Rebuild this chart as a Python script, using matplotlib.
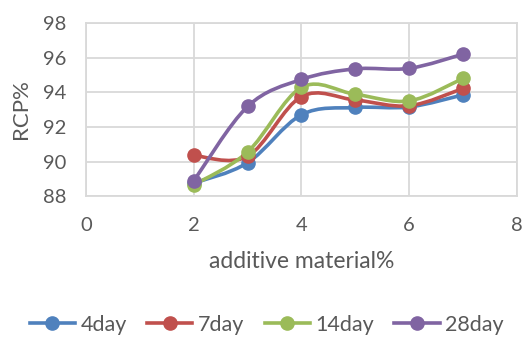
import numpy as np
import matplotlib.pyplot as plt
from matplotlib.path import Path
from matplotlib.patches import PathPatch
from matplotlib.lines import Line2D

plt.rcParams['font.family'] = ['Lato', 'DejaVu Sans']

# --- data ---
additive = [2, 3, 4, 5, 6, 7]
rcp_4day = [88.75, 89.93, 92.70, 93.12, 93.15, 93.85]
rcp_7day = [90.35, 90.30, 93.75, 93.55, 93.22, 94.22]
rcp_14day = [88.65, 90.55, 94.28, 93.88, 93.50, 94.80]
rcp_28day = [88.88, 93.18, 94.74, 95.35, 95.38, 96.20]
series_names = ['4day', '7day', '14day', '28day']
colors = ['#4F81BD', '#C0504D', '#9BBB59', '#8064A2']

text_col = '#595959'
grid_col = '#D9D9D9'


def smooth_path(xs, ys, k=1 / 6):
    # Excel-style smoothed line: cubic Bezier segments through the points
    pts = np.column_stack([xs, ys]).astype(float)
    verts = [pts[0]]
    codes = [Path.MOVETO]
    n = len(pts)
    for i in range(n - 1):
        p0 = pts[i - 1] if i > 0 else pts[i]
        p1, p2 = pts[i], pts[i + 1]
        p3 = pts[i + 2] if i + 2 < n else pts[i + 1]
        c1 = p1 + (p2 - p0) * k
        c2 = p2 - (p3 - p1) * k
        verts += [c1, c2, p2]
        codes += [Path.CURVE4] * 3
    return Path(verts, codes)


fig = plt.figure(figsize=(5.23, 3.37), dpi=100)
ax = fig.add_axes([0.1644, 0.418, 0.8241, 0.5138])

all_series = [rcp_4day, rcp_7day, rcp_14day, rcp_28day]
for vals, col in zip(all_series, colors):
    ax.add_patch(PathPatch(smooth_path(additive, vals), fill=False,
                           edgecolor=col, lw=2.6, zorder=3))
    ax.plot(additive, vals, ls='none', marker='o', ms=9.5, color=col, zorder=4)

ax.set_xlim(0, 8)
ax.set_ylim(88, 98)
ax.set_xticks([0, 2, 4, 6, 8])
ax.set_yticks([88, 90, 92, 94, 96, 98])
ax.grid(True, color=grid_col, lw=1.3)
ax.set_axisbelow(True)
for s in ax.spines.values():
    s.set_color(grid_col)
    s.set_linewidth(1.3)
ax.tick_params(length=0, labelsize=14.5, colors=text_col)
ax.tick_params(axis='x', pad=15)
ax.tick_params(axis='y', pad=14)

ax.set_xlabel('additive material%', fontsize=16.5, color=text_col, labelpad=12)
ax.set_ylabel('RCP%', fontsize=16, color=text_col, labelpad=9)

handles = [Line2D([], [], color=c, lw=2.6, marker='o', ms=9.5) for c in colors]
fig.legend(handles, series_names, loc='center', ncol=4, frameon=False,
           bbox_to_anchor=(0.51, 0.037), fontsize=15.5, labelcolor=text_col,
           handlelength=2.1, columnspacing=0.95, handletextpad=0.25)

fig.savefig('out.png', dpi=100)
